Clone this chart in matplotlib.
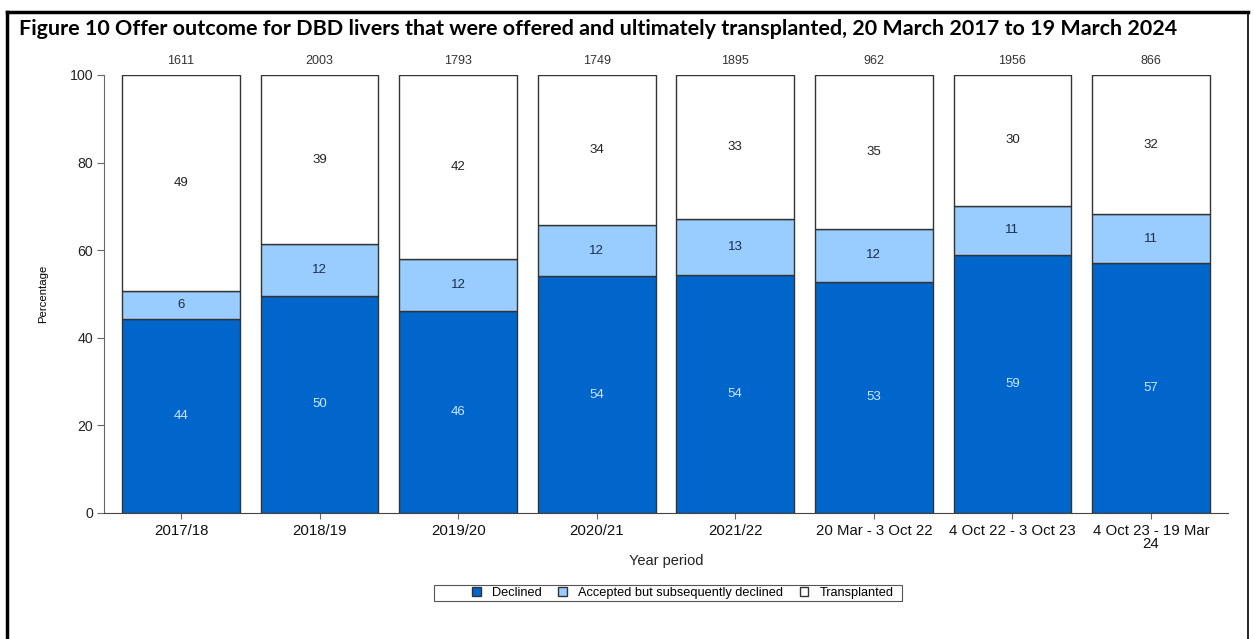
import matplotlib
matplotlib.use("Agg")
import matplotlib.pyplot as plt
from matplotlib.patches import Rectangle, Patch
import numpy as np

categories = ["2017/18", "2018/19", "2019/20", "2020/21", "2021/22",
              "20 Mar - 3 Oct 22", "4 Oct 22 - 3 Oct 23", "4 Oct 23 - 19 Mar\n24"]
totals = [1611, 2003, 1793, 1749, 1895, 962, 1956, 866]
declined = [44.4, 49.6, 46.2, 54.1, 54.3, 52.8, 59.0, 57.0]
accepted = [6.2, 11.8, 11.9, 11.6, 12.8, 12.1, 11.2, 11.2]
transplanted = [49.4, 38.6, 41.9, 34.3, 32.9, 35.1, 29.8, 31.8]
declined_lbl = [44, 50, 46, 54, 54, 53, 59, 57]
accepted_lbl = [6, 12, 12, 12, 13, 12, 11, 11]
transplanted_lbl = [49, 39, 42, 34, 33, 35, 30, 32]

plt.rcParams['font.family'] = ['Liberation Sans', 'DejaVu Sans']

W, H = 1254, 639
fig = plt.figure(figsize=(W/100, H/100), dpi=100)

# outer frame
fig.add_artist(plt.Line2D([7/W, 7/W], [0, 1-12/H], transform=fig.transFigure, color='black', lw=2.5))
fig.add_artist(plt.Line2D([7/W, 1248/W], [1-12/H, 1-12/H], transform=fig.transFigure, color='black', lw=2.5))
fig.add_artist(plt.Line2D([1248/W, 1248/W], [0, 1-12/H], transform=fig.transFigure, color='black', lw=1.2))

fig.text(19/W, 1-29/H, "Figure 10 Offer outcome for DBD livers that were offered and ultimately transplanted, 20 March 2017 to 19 March 2024",
         fontsize=15.45, fontweight='bold', family=['Lato', 'DejaVu Sans'], va='center', ha='left')

ax = fig.add_axes([104/W, 1-513/H, (1228-104)/W, 438/H])
x = np.arange(len(categories))
c_dec = '#0066CC'
c_acc = '#99CCFF'
c_tr = '#FFFFFF'
edge = '#333333'
bw = 0.85
ax.bar(x, declined, bw, color=c_dec, edgecolor=edge, linewidth=1, label='Declined')
ax.bar(x, accepted, bw, bottom=declined, color=c_acc, edgecolor=edge, linewidth=1,
       label='Accepted but subsequently declined')
bot2 = np.array(declined) + np.array(accepted)
ax.bar(x, transplanted, bw, bottom=bot2, color=c_tr, edgecolor=edge, linewidth=1, label='Transplanted')

for i in range(len(x)):
    ax.text(x[i], declined[i]/2, str(declined_lbl[i]), ha='center', va='center', fontsize=9.5, color='#CCE6FF')
    ax.text(x[i], declined[i] + accepted[i]/2, str(accepted_lbl[i]), ha='center', va='center', fontsize=9.5, color='#1A2E4F')
    ax.text(x[i], bot2[i] + transplanted[i]/2, str(transplanted_lbl[i]), ha='center', va='center', fontsize=9.5, color='#222222')
    ax.text(x[i], 103.2, str(totals[i]), ha='center', va='center', fontsize=9, color='#333333')

ax.set_xlim(-0.556, 7.556)
ax.set_ylim(0, 100)
ax.set_yticks([0, 20, 40, 60, 80, 100])
ax.set_xticks(x)
ax.set_xticklabels(categories, fontsize=10.8, linespacing=0.92)
ax.tick_params(axis='y', labelsize=10.2, length=5, color='#666666', pad=3, labelcolor='#222222')
ax.tick_params(axis='x', length=4, color='#666666', pad=4, labelcolor='#111111')
for s in ['top', 'right']:
    ax.spines[s].set_visible(False)
ax.spines['left'].set_color('#666666')
ax.spines['bottom'].set_color('#444444')

ax.set_ylabel("Percentage", fontsize=8.2, labelpad=15)
ax.set_xlabel("Year period", fontsize=10.5, labelpad=2, color='#222222')

# legend box
fig.add_artist(Rectangle((434/W, 1-601/H), (902-434)/W, 16/H, transform=fig.transFigure,
                         facecolor='white', edgecolor='#555555', linewidth=0.8))
handles = [Patch(facecolor=c_dec, edgecolor=edge, label='Declined'),
           Patch(facecolor=c_acc, edgecolor=edge, label='Accepted but subsequently declined'),
           Patch(facecolor=c_tr, edgecolor=edge, label='Transplanted')]
leg = fig.legend(handles=handles, loc='center', bbox_to_anchor=(683/W, 1-593/H), ncol=3,
                 fontsize=9.2, frameon=False,
                 handlelength=0.65, handleheight=0.65, handletextpad=0.9, columnspacing=1.3,
                 borderpad=0.2)

fig.savefig("out.png", dpi=100)
